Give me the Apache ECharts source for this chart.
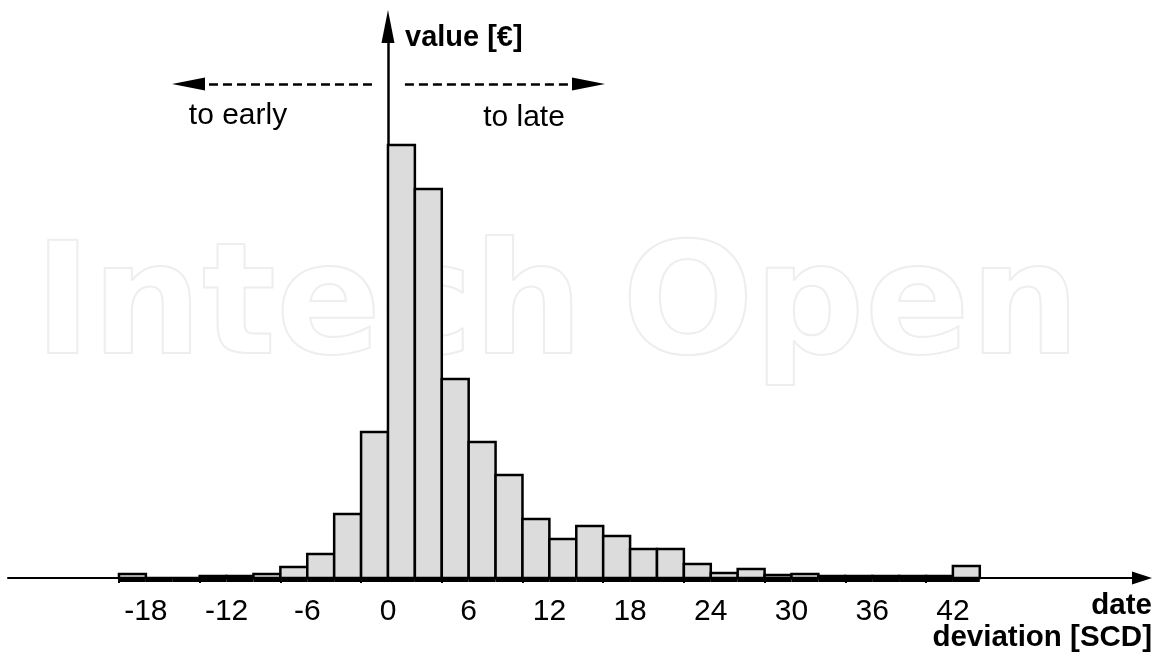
<!DOCTYPE html>
<html>
<head>
<meta charset="utf-8">
<script src="https://cdn.jsdelivr.net/npm/echarts@6/dist/echarts.min.js"></script>
<style>
html,body{margin:0;padding:0;background:#fff;}
#chart{width:1161px;height:661px;}
</style>
</head>
<body>
<div id="chart"></div>
<script>
// Bin start positions (bins are 2 SCD wide)
const binStarts = [-20,-18,-16,-14,-12,-10,-8,-6,-4,-2,0,2,4,6,8,10,12,14,16,18,20,22,24,26,28,30,32,34,36,38,40,42];
const binWidth = 2;
// Bar heights (value, arbitrary € units)
const values = [4,0,0,2,2,4,11,24,64,146,433,389,199,136,103,59,39,52,42,29,29,14,5,9,3,4,2,2,2,2,2,12];
// Axis tick labels and tick marks
const xLabels = [-18,-12,-6,0,6,12,18,24,30,36,42];
const xTickMarks = [-20,-14,-8,-2,4,10,16,22,28,34,40];
// Annotation arrows (x range in SCD, y in value units)
const earlyArrow = [-1.19, -14.83];
const lateArrow = [1.26, 14.91];
const arrowLevel = 494;

const FONT = '"Liberation Sans", Arial, sans-serif';

const barData = binStarts.map((s, i) => [s, s + binWidth, values[i]]);

const chart = echarts.init(document.getElementById('chart'), null, {renderer: 'canvas'});

chart.setOption({
  animation: false,
  backgroundColor: '#ffffff',
  grid: {left: 8, right: 19, top: 26.5, bottom: 83, containLabel: false},
  xAxis: {
    type: 'value',
    min: -28.25,
    max: 56.06,
    splitLine: {show: false},
    axisLine: {
      show: true, onZero: true,
      lineStyle: {color: '#000', width: 2},
      symbol: ['none', 'triangle'],
      symbolSize: [13, 20]
    },
    axisTick: {show: true, customValues: xTickMarks, length: 5, lineStyle: {color: '#000', width: 2}},
    axisLabel: {
      show: true, customValues: xLabels, margin: 19,
      color: '#000', fontSize: 30, fontFamily: FONT,
      formatter: v => String(v)
    }
  },
  yAxis: {
    type: 'value',
    min: 0,
    max: 551.5,
    splitLine: {show: false},
    axisTick: {show: false},
    axisLabel: {show: false},
    axisLine: {
      show: true, onZero: true,
      lineStyle: {color: '#000', width: 2.5},
      symbol: ['none', 'triangle'],
      symbolSize: [13, 33]
    }
  },
  graphic: [
    {type: 'text', z: 0, silent: true, style: {text: 'Intech', x: 34, y: 313, fill: 'rgba(0,0,0,0)', stroke: '#eeeeee', lineWidth: 2, font: 'bold 155px "DejaVu Sans"', textVerticalAlign: 'middle'}},
    {type: 'text', z: 0, silent: true, style: {text: 'Open', x: 622, y: 313, fill: 'rgba(0,0,0,0)', stroke: '#eeeeee', lineWidth: 2, font: 'bold 155px "DejaVu Sans"', textVerticalAlign: 'middle'}},
    {type: 'text', z: 10, style: {text: 'value [€]', x: 405, y: 38, fill: '#000', font: 'bold 29px ' + FONT, textVerticalAlign: 'middle', textAlign: 'left'}},
    {type: 'text', z: 10, style: {text: 'to early', x: 238, y: 116, fill: '#000', font: '30px ' + FONT, textVerticalAlign: 'middle', textAlign: 'center'}},
    {type: 'text', z: 10, style: {text: 'to late', x: 524, y: 118, fill: '#000', font: '30px ' + FONT, textVerticalAlign: 'middle', textAlign: 'center'}},
    {type: 'text', z: 10, style: {text: 'date', x: 1152, y: 606, fill: '#000', font: 'bold 29.5px ' + FONT, textVerticalAlign: 'middle', textAlign: 'right'}},
    {type: 'text', z: 10, style: {text: 'deviation [SCD]', x: 1152, y: 638, fill: '#000', font: 'bold 29.5px ' + FONT, textVerticalAlign: 'middle', textAlign: 'right'}}
  ],
  series: [
    {
      type: 'custom',
      name: 'value',
      data: barData,
      encode: {x: [0, 1], y: 2},
      z: 2,
      renderItem: function (params, api) {
        const x0 = api.value(0), x1 = api.value(1), v = api.value(2);
        const pTop = api.coord([x0, v]);
        const pBot = api.coord([x1, 0]);
        return {
          type: 'group',
          children: [
            {type: 'rect', shape: {x: pTop[0], y: pTop[1], width: pBot[0] - pTop[0], height: pBot[1] - pTop[1]},
             style: {fill: '#dcdcdc', stroke: '#000', lineWidth: 2.5}},
            {type: 'rect', shape: {x: pTop[0], y: pBot[1], width: pBot[0] - pTop[0], height: 4},
             style: {fill: '#000'}}
          ]
        };
      }
    },
    {
      type: 'line',
      data: [],
      silent: true,
      markLine: {
        silent: true,
        animation: false,
        symbol: ['none', 'triangle'],
        symbolSize: [13, 33],
        label: {show: false},
        lineStyle: {color: '#000', width: 2.5, type: [9, 5]},
        emphasis: {disabled: true},
        data: [
          [{coord: [earlyArrow[0], arrowLevel]}, {coord: [earlyArrow[1], arrowLevel]}],
          [{coord: [lateArrow[0], arrowLevel]}, {coord: [lateArrow[1], arrowLevel]}]
        ]
      }
    }
  ]
});
</script>
</body>
</html>
